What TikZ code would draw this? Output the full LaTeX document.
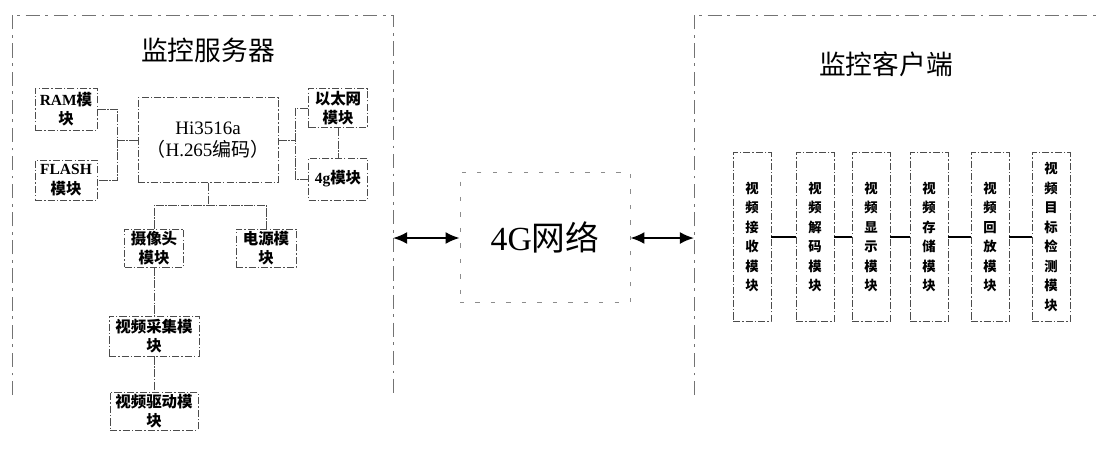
\documentclass[tikz,border=0pt]{standalone}
\usepackage{fontspec}
\setmainfont{Liberation Serif}
\newfontfamily\cjk{Noto Sans CJK SC}
\usetikzlibrary{positioning,calc,arrows.meta}
\newcommand{\lat}[1]{{\rmfamily\bfseries #1}}
\tikzset{
  frame/.style={draw=black!55, line width=0.5pt, dash pattern=on 10pt off 4pt on 2pt off 4pt},
  modbox/.style={draw=black!70, line width=0.5pt, dash pattern=on 5pt off 1.5pt on 1pt off 1.5pt,
    inner sep=1pt, align=center, font=\cjk\bfseries\fontsize{11}{14}\selectfont},
  colbox/.style={modbox, font=\cjk\bfseries\fontsize{9.5}{13.9}\selectfont},
  lnk/.style={draw=black!70, line width=0.5pt, dash pattern=on 6pt off 1pt on 1pt off 1pt},
  lnkb/.style={draw=black, line width=1.3pt},
  ttl/.style={font=\cjk\fontsize{19}{22}\selectfont},
  dbl/.style={{Latex[length=10pt,width=8.5pt]}-{Latex[length=10pt,width=8.5pt]}, line width=1.4pt}
}
\begin{document}
\begin{tikzpicture}[x=0.025cm, y=-0.025cm]
    \useasboundingbox (0,0) rectangle (1098,450);

    % Server side
    \draw[frame] (12,395) -- (12,15) -- (393,15) -- (393,395);
    \node[ttl] (srvtitle) at (208,50) {监控服务器};
    \node[modbox, minimum width=140*0.025cm, minimum height=85*0.025cm,
          font=\cjk\fontsize{13.5}{16}\selectfont] (hi) at (208,140)
          {{\rmfamily Hi3516a}\\（{\rmfamily H.265}编码）};
    \node[modbox, minimum width=62*0.025cm, minimum height=42*0.025cm] (ram) at (66,109) {\lat{RAM}模\\块};
    \node[modbox, minimum width=62*0.025cm, minimum height=40*0.025cm] (flash) at (66,180) {\lat{FLASH}\\模块};
    \node[modbox, minimum width=59*0.025cm, minimum height=39*0.025cm] (eth) at (338,108) {以太网\\模块};
    \node[modbox, minimum width=59*0.025cm, minimum height=42*0.025cm] (fourg) at (338,179) {\lat{4g}模块};
    \node[modbox, minimum width=59*0.025cm, minimum height=38*0.025cm] (cam) at (154,248) {摄像头\\模块};
    \node[modbox, minimum width=60*0.025cm, minimum height=38*0.025cm] (power) at (266,248) {电源模\\块};
    \node[modbox, minimum width=90*0.025cm, minimum height=40*0.025cm] (cap) at (154,336) {视频采集模\\块};
    \node[modbox, minimum width=88*0.025cm, minimum height=38*0.025cm] (drv) at (154,411) {视频驱动模\\块};

    % Server links
    \draw[lnk] (hi.west) -- ++(-20,0) coordinate (hl);
    \draw[lnk] (ram.east) -- (ram.east -| hl) -- (flash.east -| hl) -- (flash.east);
    \draw[lnk] (hi.east) -- ++(17,0) coordinate (hr);
    \draw[lnk] (eth.west) -- (eth.west -| hr) -- (fourg.west -| hr) -- (fourg.west);
    \draw[lnk] (eth.south) -- (fourg.north);
    \draw[lnk] (hi.south) -- ++(0,22) coordinate (hb);
    \draw[lnk] (cam.north) -- (cam.north |- hb) -- (power.north |- hb) -- (power.north);
    \draw[lnk] (cam.south) -- (cap.north);
    \draw[lnk] (cap.south) -- (drv.north);

    % Network
    \node[draw=black!45, line width=0.5pt, dash pattern=on 3pt off 8pt,
          minimum width=170*0.025cm, minimum height=130*0.025cm,
          font=\cjk\fontsize{24}{28}\selectfont] (net) at (545,237) {{\rmfamily 4G}网络};
    \coordinate (srvR) at (393,238);
    \coordinate (cliL) at (694,238);
    \draw[dbl] (srvR) -- (net.west |- srvR);
    \draw[dbl] (net.east |- cliL) -- (cliL);

    % Client side
    \draw[frame] (694,395) -- (694,15) -- (1098,15);
    \node[ttl] (clititle) at (886,64) {监控客户端};
    \foreach \n/\x/\t in {r1/752/视\\频\\接\\收\\模\\块,
                          r2/815/视\\频\\解\\码\\模\\块,
                          r3/871/视\\频\\显\\示\\模\\块,
                          r4/929/视\\频\\存\\储\\模\\块,
                          r5/990/视\\频\\回\\放\\模\\块,
                          r6/1051/视\\频\\目\\标\\检\\测\\模\\块}
        \node[colbox, minimum width=38*0.025cm, minimum height=169*0.025cm] (\n) at (\x,237) {\t};
    \foreach \a/\b in {r1/r2,r2/r3,r3/r4,r4/r5,r5/r6}
        \draw[lnkb] (\a.east) -- (\b.west);
\end{tikzpicture}
\end{document}
